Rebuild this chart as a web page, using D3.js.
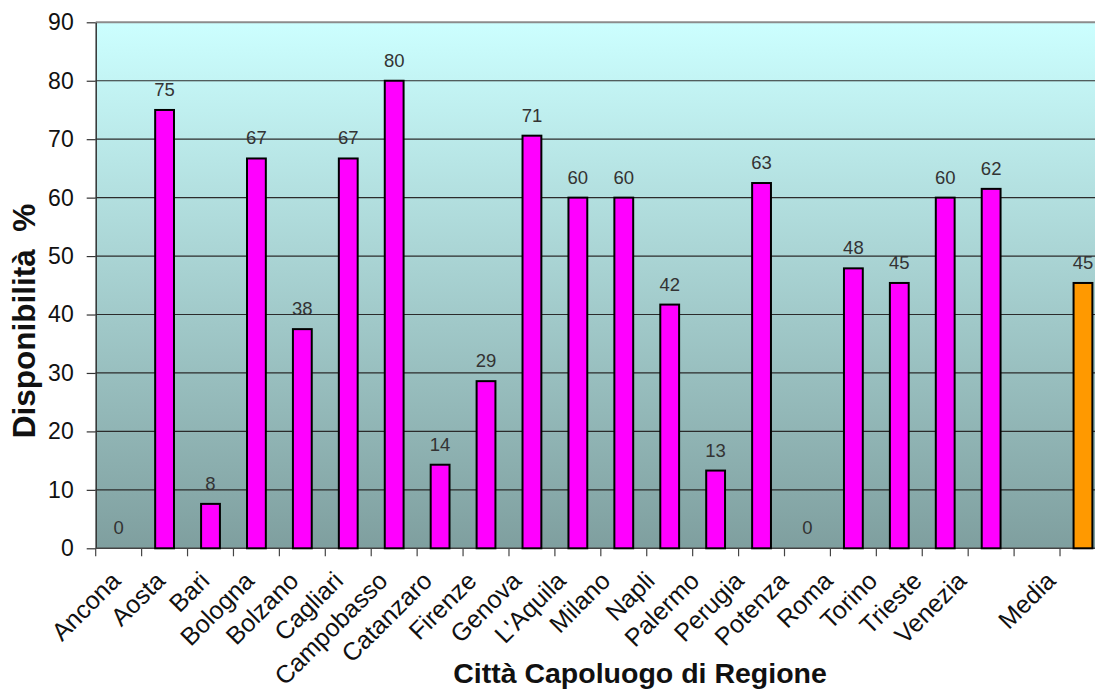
<!DOCTYPE html>
<html>

<head>
	<meta charset="utf-8">
	<script src="https://cdn.jsdelivr.net/npm/d3@7"></script>
	<style>
		body {
			margin: 0;
			background: #fff;
		}

		text {
			font-family: "Liberation Sans", Arial, sans-serif;
		}

		.grid line {
			stroke: #2b2b2b;
			stroke-width: 1.2;
		}

		.bar {
			stroke: #000;
			stroke-width: 2;
		}

		.value {
			font-size: 18.5px;
			fill: #333;
		}
	</style>
</head>

<body>
	<svg width="1095" height="689">
		<defs>
			<linearGradient id="bg" x1="0" y1="0" x2="0" y2="1">
				<stop offset="0" stop-color="#ccffff"></stop>
				<stop offset="1" stop-color="#7f9f9f"></stop>
			</linearGradient>
		</defs>
		<g></g>
	</svg>
	<script>

		// città, nello stesso ordine del grafico (lo slot vuoto separa la media)
		var categories = ["Ancona", "Aosta", "Bari", "Bologna", "Bolzano", "Cagliari", "Campobasso",
			"Catanzaro", "Firenze", "Genova", "L'Aquila", "Milano", "Napli", "Palermo", "Perugia",
			"Potenza", "Roma", "Torino", "Trieste", "Venezia", "", "Media"];
		var values = [0, 75, 7.6, 66.7, 37.5, 66.7, 80, 14.3, 28.6, 70.6, 60, 60, 41.7, 13.3, 62.5,
			0, 47.9, 45.4, 60, 61.5, null, 45.4];
		var yTicks = [0, 10, 20, 30, 40, 50, 60, 70, 80, 90];

		var margins = { "left": 95.7, "top": 22.3, "bottom": 140.7 };
		var height = 689 - margins.top - margins.bottom;
		var width = 45.92 * categories.length;

		var svg = d3.select("svg");
		var group = svg.select("g")
			.attr("transform", "translate(" + margins.left + "," + margins.top + ")");

		var idx = d3.range(categories.length);

		var x = d3.scaleBand()
			.domain(idx)
			.range([0, width])
			.paddingInner(0.59)
			.paddingOuter(0.295);

		// the category labels sit on a slightly tighter pitch than the bars
		var xLabel = d3.scalePoint()
			.domain(idx)
			.range([122 - margins.left, 1057 - margins.left]);

		var y = d3.scaleLinear()
			.domain([0, 90])
			.range([height, 0]);

		group.append("rect")
			.attr("width", width)
			.attr("height", height)
			.attr("fill", "url(#bg)");

		// grid
		group.append("g")
			.attr("class", "grid")
			.selectAll("line")
			.data(yTicks.filter(d => d > 0 && d < 90))
			.enter().append("line")
			.attr("x1", 0)
			.attr("x2", width)
			.attr("y1", d => y(d))
			.attr("y2", d => y(d));

		group.append("line")
			.attr("x1", 0).attr("x2", width)
			.attr("y1", y(90)).attr("y2", y(90))
			.attr("stroke", "#8c8c8c")
			.attr("stroke-width", 2);

		// y axis
		var yAxis = group.append("g")
			.call(d3.axisLeft(y).tickValues(yTicks).tickSize(9).tickPadding(13).tickSizeOuter(0));
		yAxis.select(".domain").attr("stroke", "#333").attr("stroke-width", 1.5);
		yAxis.selectAll(".tick line").attr("stroke", "#333").attr("stroke-width", 1.2);
		yAxis.selectAll(".tick text")
			.attr("fill", "#111")
			.style("font-size", "23px")
			.style("font-family", "'Liberation Sans', Arial, sans-serif");

		// x axis: ticks on the slot boundaries
		var bottom = group.append("g").attr("transform", "translate(0," + height + ")");
		bottom.append("line")
			.attr("x1", 0).attr("x2", width)
			.attr("stroke", "#444").attr("stroke-width", 1.5);
		bottom.selectAll(".xtick")
			.data(idx)
			.enter().append("line")
			.attr("class", "xtick")
			.attr("x1", d => x(d) - x.step() * x.paddingOuter())
			.attr("x2", d => x(d) - x.step() * x.paddingOuter())
			.attr("y1", 0)
			.attr("y2", 8)
			.attr("stroke", "#444")
			.attr("stroke-width", 1.2);

		bottom.selectAll(".xlabel")
			.data(idx)
			.enter().append("text")
			.attr("class", "xlabel")
			.attr("text-anchor", "end")
			.attr("transform", d => "translate(" + xLabel(d) + ",34) rotate(-45)")
			.style("font-size", "25px")
			.attr("fill", "#111")
			.text(d => categories[d]);

		// bars
		var barIdx = idx.filter(i => values[i] !== null);

		group.selectAll(".bar")
			.data(barIdx.filter(i => values[i] > 0))
			.enter().append("rect")
			.attr("class", "bar")
			.attr("x", d => x(d))
			.attr("width", x.bandwidth())
			.attr("y", d => y(values[d]))
			.attr("height", d => height - y(values[d]))
			.attr("fill", d => categories[d] == "Media" ? "#ff9900" : "#ff00ff");

		group.selectAll(".value")
			.data(barIdx)
			.enter().append("text")
			.attr("class", "value")
			.attr("text-anchor", "middle")
			.attr("x", d => x(d) + x.bandwidth() / 2)
			.attr("y", d => y(values[d]) - 14)
			.text(d => Math.round(values[d]));

		// axis titles
		svg.append("text")
			.attr("text-anchor", "middle")
			.attr("transform", "translate(35,321) rotate(-90)")
			.style("font-size", "31.5px")
			.style("font-weight", "bold")
			.attr("fill", "#111")
			.attr("xml:space", "preserve")
			.text("Disponibilità  %");

		svg.append("text")
			.attr("text-anchor", "middle")
			.attr("x", 640)
			.attr("y", 683)
			.style("font-size", "28.5px")
			.style("font-weight", "bold")
			.attr("fill", "#111")
			.text("Città Capoluogo di Regione");

	</script>
</body>

</html>
